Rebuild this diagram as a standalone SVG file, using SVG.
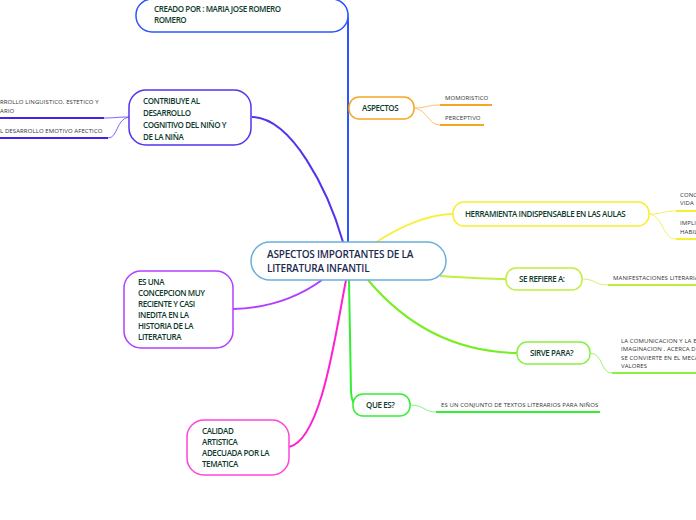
<svg xmlns="http://www.w3.org/2000/svg" width="696" height="520" viewBox="0 0 696 520">
<style>
.nt{font-family:"Open Sans","Liberation Sans",sans-serif;font-size:8px;font-weight:600;fill:#0e3b2c;letter-spacing:-0.4px}
.ct{font-family:"Open Sans","Liberation Sans",sans-serif;font-size:10px;font-weight:600;fill:#1b2a4e;letter-spacing:-0.2px}
.st{font-family:"Open Sans","Liberation Sans",sans-serif;font-size:6px;fill:#333;letter-spacing:0.1px}
.box{fill:#fff;stroke-width:1.5}
.main{fill:none;stroke-width:2}
.sub{fill:none;stroke-width:1}
.ul{fill:none;stroke-width:2}
</style>
<rect width="696" height="520" fill="#fff"/>
<g id="connectors">
<path class="main" stroke="#2a55ff" d="M340,2 Q348,6 348,22 L348,244"/>
<path class="main" stroke="#5533ee" d="M252,117 C292,118 328,190 343,242"/>
<path class="main" stroke="#b040ff" d="M233,309 C270,308 300,296 322,280"/>
<path class="main" stroke="#ff22d0" d="M289,447 C322,440 336,330 346,280"/>
<path class="main" stroke="#33ee33" d="M349,280 L351,392 Q352,404 356,405"/>
<path class="main" stroke="#77ee22" d="M368,280 C410,330 460,352 517,353"/>
<path class="main" stroke="#c0ef40" d="M440,276 C470,278 490,279 506,279"/>
<path class="main" stroke="#f8f040" d="M375,243 C400,226 430,214 453,214"/>
<path class="sub" stroke="#ffc070" d="M414,108 C425,108 428,105 440,105"/>
<path class="sub" stroke="#ffc070" d="M414,108 C428,110 428,125 440,125"/>
<path class="ul" stroke="#f5a623" d="M440,105 L492,105 M440,125 L484,125"/>
<path class="sub" stroke="#7766ff" d="M129,117 C118,117 114,118 104,118"/>
<path class="sub" stroke="#7766ff" d="M129,117 C116,119 118,138 108,138"/>
<path class="ul" stroke="#4422ee" d="M0,118 L104,118 M0,138 L108,138"/>
<path class="sub" stroke="#f8f060" d="M649,214 C662,214 664,211 676,211"/>
<path class="sub" stroke="#f8f060" d="M649,214 C664,216 662,239 676,239"/>
<path class="ul" stroke="#f8ee30" d="M676,211 L696,211 M676,239 L696,239"/>
<path class="sub" stroke="#d0f070" d="M582,279 C596,279 594,285 608,285"/>
<path class="ul" stroke="#bdef3a" d="M608,285 L696,285"/>
<path class="sub" stroke="#a8f070" d="M590,353 C604,354 600,373 612,373"/>
<path class="ul" stroke="#88f040" d="M612,373 L696,373"/>
<path class="sub" stroke="#88f088" d="M410,405 C424,405 424,412 436,412"/>
<path class="ul" stroke="#33ee33" d="M436,412 L600,412"/>
</g>
<g id="center">
<rect class="box" x="251" y="242" width="195" height="38" rx="19" stroke="#6aaedc"/>
<text class="ct" x="267" y="258">ASPECTOS IMPORTANTES DE LA</text>
<text class="ct" x="267" y="272">LITERATURA INFANTIL</text>
</g>
<g id="creado">
<rect class="box" x="136" y="-1" width="212" height="33" rx="16" stroke="#2a55ff"/>
<text class="nt" x="154" y="12">CREADO POR : MARIA JOSE ROMERO</text>
<text class="nt" x="154" y="23">ROMERO</text>
</g>
<g id="aspectos">
<rect class="box" x="349" y="97" width="65" height="22" rx="10" stroke="#f5a623"/>
<text class="nt" x="362" y="111">ASPECTOS</text>
<text class="st" x="445" y="100">MOMORISTICO</text>
<text class="st" x="445" y="120">PERCEPTIVO</text>
</g>
<g id="contribuye">
<rect class="box" x="129" y="90" width="122" height="55" rx="17" stroke="#5533ee"/>
<text class="nt" x="143" y="104">CONTRIBUYE AL</text>
<text class="nt" x="143" y="116">DESARROLLO</text>
<text class="nt" x="143" y="128">COGNITIVO DEL NIÑO Y</text>
<text class="nt" x="143" y="140">DE LA NIÑA</text>
<text class="st" x="0" y="104">RROLLO LINGUISTICO,  ESTETICO Y</text>
<text class="st" x="0" y="113">ARIO</text>
<text class="st" x="0" y="133">L DESARROLLO EMOTIVO AFECTICO</text>
</g>
<g id="herramienta">
<rect class="box" x="453" y="202" width="196" height="24" rx="11" stroke="#f8ee30"/>
<text class="nt" x="465" y="217">HERRAMIENTA INDISPENSABLE EN LAS AULAS</text>
<text class="st" x="680" y="197">CONC</text>
<text class="st" x="680" y="205">VIDA</text>
<text class="st" x="680" y="225">IMPLI</text>
<text class="st" x="680" y="234">HABIL</text>
</g>
<g id="serefiere">
<rect class="box" x="506" y="268" width="76" height="22" rx="10" stroke="#c0ef40"/>
<text class="nt" x="519" y="282">SE REFIERE A:</text>
<text class="st" x="613" y="280">MANIFESTACIONES LITERARIA</text>
</g>
<g id="sirve">
<rect class="box" x="517" y="342" width="73" height="22" rx="10" stroke="#88f040"/>
<text class="nt" x="530" y="356">SIRVE PARA?</text>
<text class="st" x="621" y="343">LA COMUNICACION Y LA E</text>
<text class="st" x="621" y="351">IMAGINACION , ACERCA D</text>
<text class="st" x="621" y="360">SE CONVIERTE EN EL MECA</text>
<text class="st" x="621" y="368">VALORES</text>
</g>
<g id="quees">
<rect class="box" x="353" y="394" width="57" height="22" rx="10" stroke="#33ee33"/>
<text class="nt" x="366" y="408">QUE ES?</text>
<text class="st" x="441" y="407">ES UN CONJUNTO DE TEXTOS LITERARIOS PARA NIÑOS</text>
</g>
<g id="esuna">
<rect class="box" x="124" y="271" width="109" height="77" rx="17" stroke="#b040ff"/>
<text class="nt" x="138" y="285">ES UNA</text>
<text class="nt" x="138" y="296">CONCEPCION MUY</text>
<text class="nt" x="138" y="307">RECIENTE Y CASI</text>
<text class="nt" x="138" y="318">INEDITA EN LA</text>
<text class="nt" x="138" y="329">HISTORIA DE LA</text>
<text class="nt" x="138" y="340">LITERATURA</text>
</g>
<g id="calidad">
<rect class="box" x="187" y="420" width="102" height="55" rx="17" stroke="#ff44dd"/>
<text class="nt" x="202" y="434">CALIDAD</text>
<text class="nt" x="202" y="445">ARTISTICA</text>
<text class="nt" x="202" y="456">ADECUADA POR LA</text>
<text class="nt" x="202" y="467">TEMATICA</text>
</g>
</svg>
